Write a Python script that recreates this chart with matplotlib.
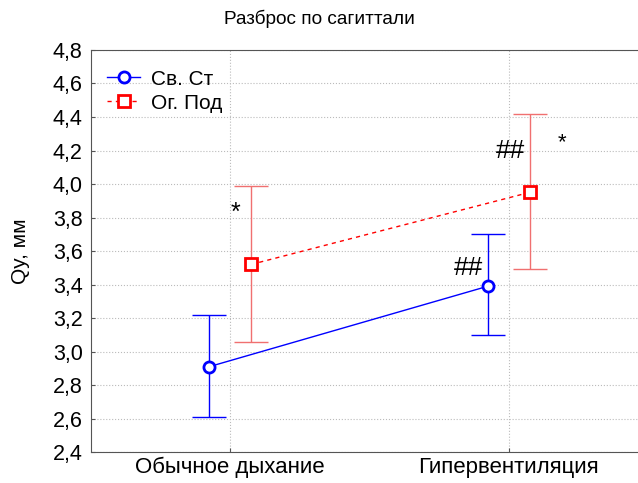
import numpy as np
import matplotlib.pyplot as plt
from matplotlib.lines import Line2D

plt.rcParams['font.family'] = ['Liberation Sans', 'DejaVu Sans']

# данные
categories = ['Обычное дыхание', 'Гипервентиляция']
sv_mean = [2.91, 3.39]
sv_low = [2.61, 3.10]
sv_high = [3.22, 3.70]
og_mean = [3.52, 3.95]
og_low = [3.06, 3.49]
og_high = [3.99, 4.42]
y_ticks = [2.4, 2.6, 2.8, 3.0, 3.2, 3.4, 3.6, 3.8, 4.0, 4.2, 4.4, 4.6, 4.8]

x = np.arange(1, len(categories) + 1)
shift = 0.075

fig = plt.figure(figsize=(6.38, 4.83), dpi=100)
ax = fig.add_axes([0.1426, 0.064, 0.873, 0.8325])

sv_err = [np.array(sv_mean) - np.array(sv_low), np.array(sv_high) - np.array(sv_mean)]
og_err = [np.array(og_mean) - np.array(og_low), np.array(og_high) - np.array(og_mean)]

# усы
ax.errorbar(x - shift, sv_mean, yerr=sv_err, fmt='none', ecolor='#0000ff', elinewidth=1,
            capsize=12, capthick=1, zorder=2)
ax.errorbar(x + shift, og_mean, yerr=og_err, fmt='none', ecolor='#f07070', elinewidth=1,
            capsize=12, capthick=1, zorder=2)

# линии и маркеры
ax.plot(x - shift, sv_mean, color='#0000ff', lw=1, marker='o', ms=8, mfc='white',
        mec='#0000ff', mew=2, zorder=3)
ax.plot(x + shift, og_mean, color='#ff0000', lw=1, ls=(0, (3, 3)), marker='s', ms=8,
        mfc='white', mec='#ff0000', mew=2, zorder=3)

# значки достоверности
ax.text(1.02, 3.83, '*', fontsize=18, ha='center', va='center')
ax.text(1.856, 3.50, '##', fontsize=19, ha='center', va='center')
ax.text(2.007, 4.20, '##', fontsize=19, ha='center', va='center')
ax.text(2.19, 4.245, '*', fontsize=16, ha='center', va='center')

ax.set_xlim(0.5, 2.5)
ax.set_ylim(2.4, 4.8)
ax.set_xticks(x)
ax.set_xticklabels(categories, fontsize=16)
ax.set_yticks(y_ticks)
ax.set_yticklabels([f'{v:.1f}'.replace('.', ',') for v in y_ticks], fontsize=15.5)
ax.tick_params(direction='in', length=3, color='#555555')
ax.tick_params(axis='y', pad=6)
ax.grid(True, ls=':', color='#bbbbbb', lw=0.8)
for s in ax.spines.values():
    s.set_color('#555555')

ax.set_ylabel('Qy, мм', fontsize=15)
ax.yaxis.set_label_coords(-0.11, 0.5)
fig.text(0.5, 0.962, 'Разброс по сагиттали', fontsize=13.7, ha='center', va='center')

handles = [
    Line2D([], [], color='#0000ff', lw=1, marker='o', ms=8, mfc='white', mec='#0000ff', mew=2),
    Line2D([], [], color='#ff0000', lw=1, ls=(0, (3, 3)), marker='s', ms=8, mfc='white',
           mec='#ff0000', mew=2),
]
ax.legend(handles, ['Св. Ст', 'Ог. Под'], loc='upper left', frameon=False, fontsize=15,
          handlelength=1.6, handletextpad=0.5, bbox_to_anchor=(-0.005, 0.998),
          labelspacing=0.25)

fig.savefig('out.png', dpi=100)
